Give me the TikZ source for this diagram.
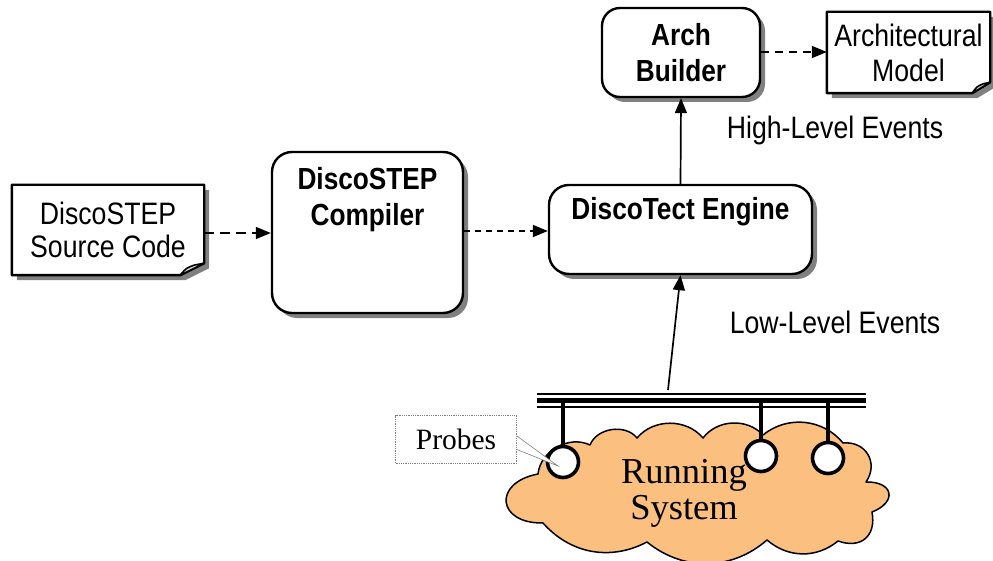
\documentclass[tikz,border=0pt]{standalone}
\usepackage{fontspec}
\setmainfont{Liberation Sans}[FakeStretch=0.86]
\newfontfamily\serifrm{Liberation Serif}
\usetikzlibrary{arrows.meta,shadows}
\pgfdeclarelayer{background}
\pgfsetlayers{background,main}

\definecolor{cloudfill}{RGB}{251,191,128}
\definecolor{shadowgray}{RGB}{128,128,128}
\definecolor{foldgray}{RGB}{214,214,214}

\tikzset{
  lbl/.style={font=\fontsize{31}{33}\selectfont, align=center},
  blbl/.style={font=\bfseries\fontsize{30.5}{36}\selectfont, align=center, inner sep=0pt},
  procbox/.style={draw, line width=2.4pt, rounded corners=20pt, fill=white,
    inner sep=0pt,
    drop shadow={shadow xshift=5pt, shadow yshift=-5pt, fill=shadowgray, opacity=1}},
  docbox/.style={rectangle, inner sep=0pt, lbl},
  tip/.style={-{Triangle[length=15pt,width=12pt]}},
  flow/.style={line width=1.7pt, tip},
  longdash/.style={flow, dash pattern=on 10pt off 6pt},
  shortdash/.style={flow, dash pattern=on 6pt off 5pt},
  probe/.style={circle, draw, line width=3.6pt, fill=white, minimum size=31pt, inner sep=0pt},
  stem/.style={line width=3.4pt},
  cloudline/.style={draw, line width=1.5pt, fill=cloudfill, line join=round},
}

% document symbol with a folded bottom-right corner: #1 node, #2 fold width, #3 fold height
\newcommand\docoutline[3]{
  \begin{pgfonlayer}{background}
    \fill[shadowgray] ([shift={(5,5)}]#1.north west) -- ([shift={(5,5)}]#1.north east)
      -- ([shift={(5,5-#3)}]#1.south east) -- ([shift={(5-#2,5)}]#1.south east)
      -- ([shift={(5,5)}]#1.south west) -- cycle;
    \fill[white] (#1.north west) -- (#1.north east) -- ([shift={(0,-#3)}]#1.south east)
      -- ([shift={(-#2,0)}]#1.south east) -- (#1.south west) -- cycle;
  \end{pgfonlayer}
  \draw[line width=2.4pt, line join=round] (#1.north west) -- (#1.north east)
    -- ([shift={(0,-#3)}]#1.south east) -- ([shift={(-#2,0)}]#1.south east)
    -- (#1.south west) -- cycle;
  \draw[line width=1.6pt, fill=foldgray, line join=round] ([shift={(-#2,0)}]#1.south east)
    .. controls ([shift={(-0.75*#2,-0.6*#3)}]#1.south east) .. ([shift={(-0.4*#2,-0.85*#3)}]#1.south east)
    -- ([shift={(0,-#3)}]#1.south east) -- cycle;
}

\begin{document}
\begin{tikzpicture}[x=1pt,y=-1pt]
\useasboundingbox (0,0) rectangle (993,561);

% documents
\node[docbox, minimum width=192pt, minimum height=90pt] (src) at (108,230) {DiscoSTEP\\Source Code};
\docoutline{src}{24}{12}
\node[docbox, minimum width=163pt, minimum height=81pt, font=\fontsize{31}{35}\selectfont] (model) at (908.5,52.5) {Architectural\\Model};
\docoutline{model}{18}{11}

% processing boxes
\node[procbox, minimum width=191pt, minimum height=161pt,
  label={[blbl, anchor=north, yshift=-16pt]north:DiscoSTEP\\Compiler}] (comp) at (367.5,232.5) {};
\node[procbox, minimum width=263pt, minimum height=89pt,
  label={[blbl, anchor=north, yshift=-13pt]north:DiscoTect Engine}] (eng) at (680.5,229.5) {};
\node[procbox, rounded corners=18pt, minimum width=158pt, minimum height=89pt, blbl] (arch) at (681,52.5) {Arch\\Builder};

% connectors between boxes
\draw[longdash] (src.east |- 0,233) -- (comp.west |- 0,233);
\draw[shortdash] (comp.east |- 0,231) -- (eng.west |- 0,231);
\draw[shortdash, dash pattern=on 8pt off 6pt] (arch.east |- 0,52) -- (model.west |- 0,52);
\draw[flow] (eng.north) -- (arch.south);

% event labels
\node[lbl] (hle) at (835,130) {High-Level Events};
\node[lbl] (lle) at (835,322) {Low-Level Events};

% running system: hand-drawn cloud through the notches between its puffs
\coordinate (k1) at (538,474);
\coordinate (k2) at (590,445);
\coordinate (k3) at (637,438);
\coordinate (k4) at (703,438);
\coordinate (k5) at (763,435);
\coordinate (k6) at (843,443);
\coordinate (k7) at (866,482);
\coordinate (k8) at (872,512);
\coordinate (k9) at (838,541);
\coordinate (k10) at (767,540);
\coordinate (k11) at (647,542);
\coordinate (k12) at (543,523);
\path[cloudline] (k1)
  to[bend left=55] (k2)
  to[bend left=60] (k3)
  to[bend left=50] (k4)
  to[bend left=50] (k5)
  to[bend left=45] (k6)
  to[bend left=65, looseness=1.3] (k7)
  to[bend left=80, looseness=2.3] (k8)
  to[bend left=60, looseness=1.4] (k9)
  to[bend left=40] (k10)
  to[bend left=40] (k11)
  to[bend left=38] (k12)
  to[bend left=85, looseness=2.4] cycle;
\node[font=\serifrm\fontsize{36.5}{36}\selectfont, align=center] (systxt) at (684,493) {Running\\System};

% event bus
\node[rectangle, inner sep=0pt, minimum width=329pt, minimum height=16pt] (bus) at (701.5,400) {};
\draw[line width=2.6pt] (bus.west |- 0,394) -- (bus.east |- 0,394);
\draw[line width=5pt] (bus.west |- 0,400.5) -- (bus.east |- 0,400.5);
\draw[line width=2.4pt] (bus.west |- 0,407) -- (bus.east |- 0,407);
\coordinate (tap) at (668,390);
\draw[flow] (tap) -- (eng.south);

% probes
\node[probe] (p1) at (563,462) {};
\node[probe] (p2) at (761,456) {};
\node[probe] (p3) at (828,458) {};
\foreach \p in {p1,p2,p3}
  \draw[stem] (\p.north) -- (\p.north |- bus.center);

% probes callout
\node[draw=gray, densely dotted, line width=0.8pt, fill=white, minimum width=121pt, minimum height=48pt,
  inner sep=0pt, font=\serifrm\fontsize{29.5}{30}\selectfont] (call) at (456,439.5) {Probes};
\coordinate (calltip) at ([shift={(-5,4)}]p1.center);
\fill[white] ([yshift=3.5pt]call.east) -- (calltip) -- ([yshift=-10pt]call.east) -- cycle;
\draw[gray, line width=0.6pt] ([yshift=3.5pt]call.east) -- (calltip) -- ([yshift=-10pt]call.east);
\end{tikzpicture}
\end{document}
